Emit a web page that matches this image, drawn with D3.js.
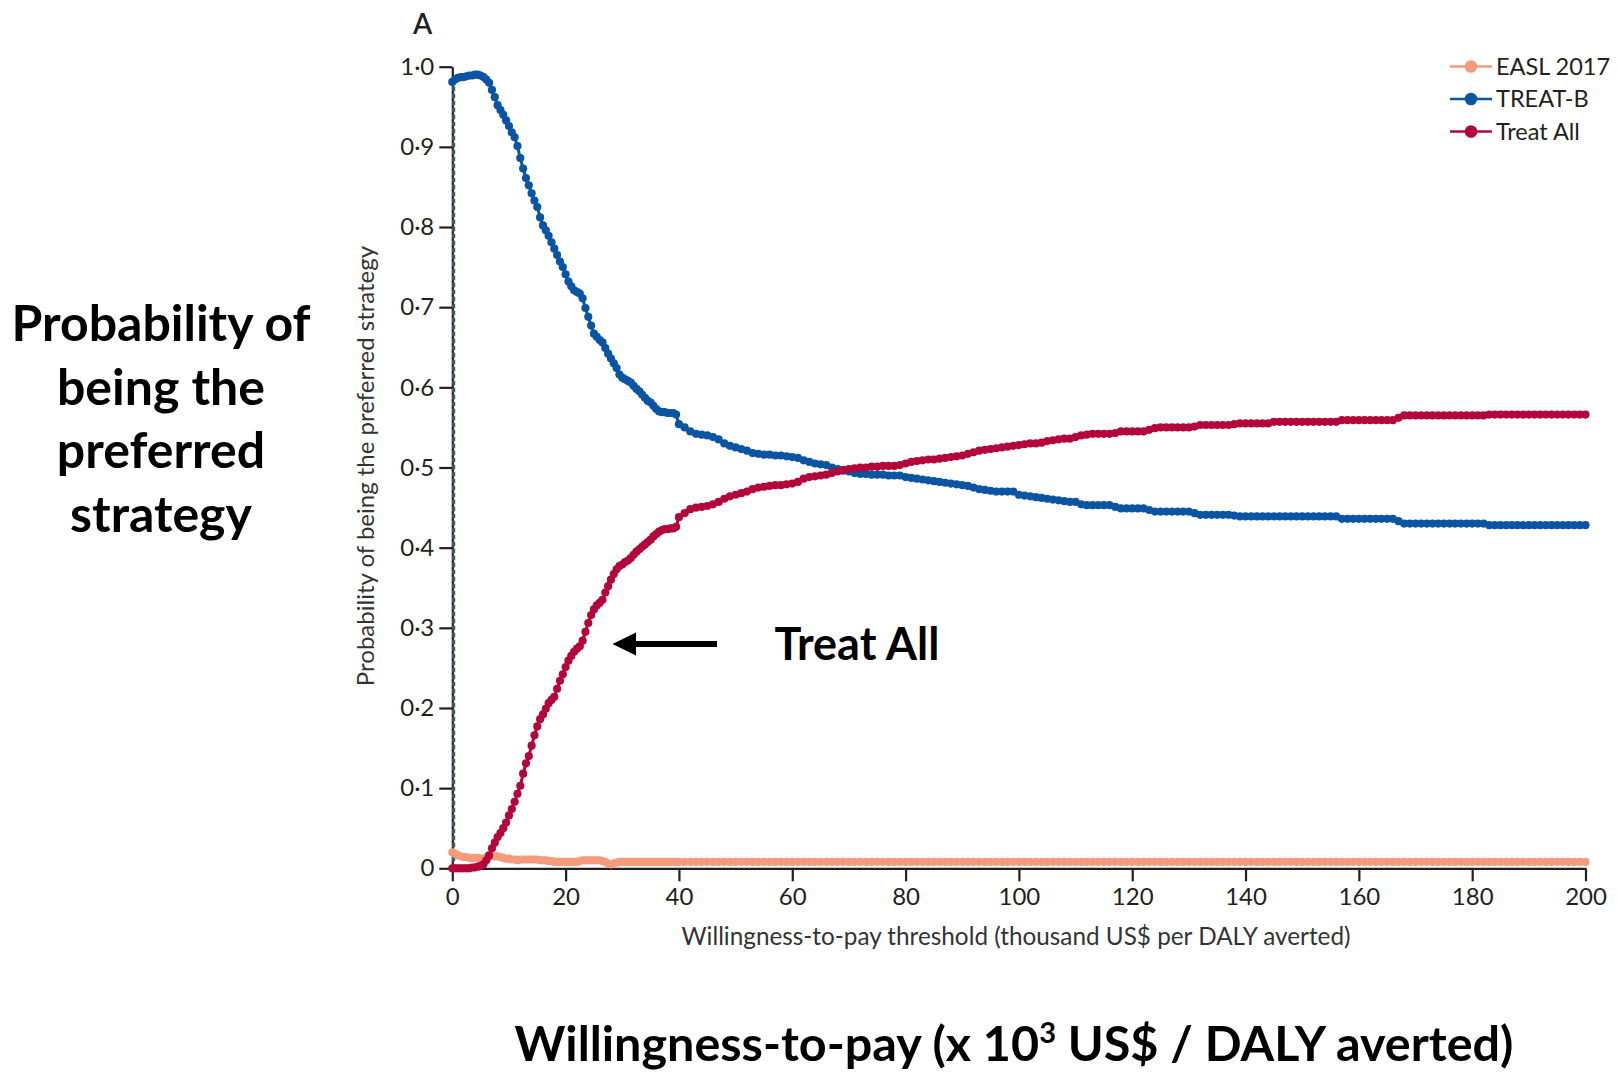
<!DOCTYPE html>
<html>
<head>
<meta charset="utf-8">
<script src="https://cdn.jsdelivr.net/npm/d3@7"></script>
<style>
  html, body { margin: 0; padding: 0; background: #fff; }
  svg { display: block; }
</style>
</head>
<body>
<script>
// Willingness-to-pay thresholds (thousand US$ per DALY averted):
// every 0.5 up to 40, then every 1 up to 200
const thresholds = d3.range(0, 40, 0.5).concat(d3.range(40, 201, 1));

const seriesNames = ["EASL 2017", "TREAT-B", "Treat All"];
const seriesColors = ["#f59b7c", "#0a55a3", "#b3063a"];

const xTicks = [0, 20, 40, 60, 80, 100, 120, 140, 160, 180, 200];
const yTicks = [0, 0.1, 0.2, 0.3, 0.4, 0.5, 0.6, 0.7, 0.8, 0.9, 1.0];
const yTickLabels = ["0", "0·1", "0·2", "0·3", "0·4", "0·5", "0·6", "0·7", "0·8", "0·9", "1·0"];

// Probability of being the preferred strategy
const easl = [
  // 0 – 39.5 (step 0.5)
  0.020,0.018,0.016,0.015,0.014,0.014,0.013,0.013,0.013,0.013,
  0.012,0.012,0.013,0.014,0.015,0.015,0.015,0.014,0.013,0.012,
  0.012,0.011,0.011,0.010,0.011,0.011,0.011,0.011,0.011,0.011,
  0.011,0.010,0.010,0.010,0.009,0.009,0.008,0.008,0.008,0.008,
  0.008,0.008,0.008,0.008,0.008,0.009,0.010,0.010,0.010,0.010,
  0.010,0.010,0.010,0.009,0.008,0.006,0.005,0.006,0.007,0.008,
  0.008,0.008,0.008,0.008,0.008,0.008,0.008,0.008,0.008,0.008,
  0.008,0.008,0.008,0.008,0.008,0.008,0.008,0.008,0.008,0.008,
  // 40 – 200 (step 1)
  0.008,
  0.008,0.008,0.008,0.008,0.008,0.008,0.008,0.008,0.008,0.008,
  0.008,0.008,0.008,0.008,0.008,0.008,0.008,0.008,0.008,0.008,
  0.008,0.008,0.008,0.008,0.008,0.008,0.008,0.008,0.008,0.008,
  0.008,0.008,0.008,0.008,0.008,0.008,0.008,0.008,0.008,0.008,
  0.008,0.008,0.008,0.008,0.008,0.008,0.008,0.008,0.008,0.008,
  0.008,0.008,0.008,0.008,0.008,0.008,0.008,0.008,0.008,0.008,
  0.008,0.008,0.008,0.008,0.008,0.008,0.008,0.008,0.008,0.008,
  0.008,0.008,0.008,0.008,0.008,0.008,0.008,0.008,0.008,0.008,
  0.008,0.008,0.008,0.008,0.008,0.008,0.008,0.008,0.008,0.008,
  0.008,0.008,0.008,0.008,0.008,0.008,0.008,0.008,0.008,0.008,
  0.008,0.008,0.008,0.008,0.008,0.008,0.008,0.008,0.008,0.008,
  0.008,0.008,0.008,0.008,0.008,0.008,0.008,0.008,0.008,0.008,
  0.008,0.008,0.008,0.008,0.008,0.008,0.008,0.008,0.008,0.008,
  0.008,0.008,0.008,0.008,0.008,0.008,0.008,0.008,0.008,0.008,
  0.008,0.008,0.008,0.008,0.008,0.008,0.008,0.008,0.008,0.008,
  0.008,0.008,0.008,0.008,0.008,0.008,0.008,0.008,0.008,0.008
];

const treatB = [
  // 0 – 39.5 (step 0.5)
  0.981,0.984,0.986,0.987,0.987,0.988,0.989,0.989,0.990,0.990,
  0.989,0.987,0.984,0.980,0.971,0.962,0.952,0.946,0.940,0.933,
  0.926,0.918,0.912,0.901,0.886,0.873,0.861,0.852,0.842,0.833,
  0.825,0.812,0.802,0.796,0.789,0.781,0.773,0.765,0.757,0.750,
  0.741,0.732,0.726,0.721,0.719,0.717,0.711,0.699,0.688,0.677,
  0.667,0.663,0.659,0.656,0.649,0.642,0.636,0.630,0.624,0.616,
  0.612,0.610,0.608,0.606,0.602,0.598,0.595,0.591,0.587,0.583,
  0.581,0.577,0.573,0.570,0.569,0.569,0.568,0.568,0.568,0.566,
  // 40 – 200 (step 1)
  0.554,
  0.550,0.545,0.542,0.541,0.540,0.538,0.535,0.530,0.527,0.525,
  0.523,0.521,0.518,0.517,0.516,0.516,0.515,0.515,0.514,0.513,
  0.512,0.509,0.507,0.505,0.504,0.503,0.500,0.498,0.496,0.495,
  0.493,0.492,0.492,0.491,0.491,0.491,0.490,0.490,0.490,0.488,
  0.487,0.486,0.485,0.484,0.483,0.482,0.481,0.480,0.479,0.478,
  0.477,0.475,0.473,0.472,0.471,0.470,0.470,0.470,0.470,0.466,
  0.465,0.464,0.463,0.462,0.461,0.460,0.459,0.458,0.457,0.457,
  0.454,0.453,0.453,0.453,0.453,0.453,0.451,0.449,0.449,0.449,
  0.449,0.449,0.447,0.445,0.445,0.445,0.445,0.445,0.445,0.445,
  0.443,0.441,0.441,0.441,0.441,0.441,0.441,0.440,0.439,0.439,
  0.439,0.439,0.439,0.439,0.439,0.439,0.439,0.439,0.439,0.439,
  0.439,0.439,0.439,0.439,0.439,0.439,0.436,0.436,0.436,0.436,
  0.436,0.436,0.436,0.436,0.436,0.436,0.433,0.430,0.430,0.430,
  0.430,0.430,0.430,0.430,0.430,0.430,0.430,0.430,0.430,0.430,
  0.430,0.430,0.428,0.428,0.428,0.428,0.428,0.428,0.428,0.428,
  0.428,0.428,0.428,0.428,0.428,0.428,0.428,0.428,0.428,0.428
];

const treatAll = [
  // 0 – 39.5 (step 0.5)
  0.000,0.000,0.000,0.000,0.000,0.000,0.000,0.001,0.001,0.002,
  0.003,0.005,0.010,0.016,0.025,0.032,0.039,0.044,0.050,0.057,
  0.066,0.074,0.083,0.093,0.103,0.118,0.131,0.140,0.153,0.166,
  0.177,0.186,0.192,0.199,0.206,0.210,0.214,0.224,0.234,0.242,
  0.251,0.259,0.265,0.270,0.274,0.277,0.284,0.295,0.306,0.316,
  0.323,0.328,0.331,0.335,0.344,0.352,0.360,0.367,0.373,0.377,
  0.379,0.382,0.384,0.387,0.391,0.395,0.398,0.401,0.404,0.407,
  0.410,0.414,0.417,0.420,0.422,0.423,0.423,0.424,0.424,0.426,
  // 40 – 200 (step 1)
  0.438,
  0.443,0.448,0.450,0.451,0.452,0.454,0.457,0.461,0.464,0.466,
  0.468,0.470,0.473,0.475,0.476,0.477,0.478,0.478,0.479,0.480,
  0.482,0.486,0.488,0.489,0.490,0.491,0.493,0.495,0.497,0.498,
  0.499,0.500,0.500,0.501,0.501,0.502,0.502,0.502,0.503,0.505,
  0.507,0.508,0.509,0.510,0.510,0.511,0.512,0.513,0.514,0.515,
  0.517,0.519,0.521,0.522,0.523,0.524,0.525,0.526,0.527,0.528,
  0.529,0.530,0.530,0.531,0.533,0.534,0.535,0.536,0.536,0.538,
  0.540,0.541,0.542,0.542,0.542,0.542,0.543,0.545,0.545,0.545,
  0.545,0.545,0.547,0.549,0.550,0.550,0.550,0.550,0.550,0.550,
  0.551,0.553,0.553,0.553,0.553,0.553,0.553,0.554,0.555,0.555,
  0.555,0.555,0.555,0.555,0.557,0.557,0.557,0.557,0.557,0.557,
  0.557,0.557,0.557,0.557,0.557,0.557,0.559,0.559,0.559,0.559,
  0.559,0.559,0.559,0.559,0.559,0.559,0.562,0.565,0.565,0.565,
  0.565,0.565,0.565,0.565,0.565,0.565,0.565,0.565,0.565,0.565,
  0.565,0.565,0.566,0.566,0.566,0.566,0.566,0.566,0.566,0.566,
  0.566,0.566,0.566,0.566,0.566,0.566,0.566,0.566,0.566,0.566
];

const seriesValues = [easl, treatB, treatAll];

const W = 1617, H = 1074;
const ink = "#231f20";
const chartFont = "Lato, 'Open Sans', sans-serif";

const svg = d3.select("body").append("svg")
  .attr("width", W).attr("height", H)
  .attr("viewBox", `0 0 ${W} ${H}`);

const x = d3.scaleLinear().domain([0, 200]).range([452.3, 1585.5]);
const y = d3.scaleLinear().domain([0, 1]).range([868.3, 66.7]);

// Axes
const yAxis = d3.axisLeft(y)
  .tickValues(yTicks)
  .tickFormat((d, i) => yTickLabels[i])
  .tickSize(13).tickSizeOuter(0).tickPadding(5);

const xAxis = d3.axisBottom(x)
  .tickValues(xTicks)
  .tickFormat(d3.format("d"))
  .tickSize(13).tickSizeOuter(0).tickPadding(7);

function styleAxis(g) {
  g.selectAll("path.domain").attr("stroke", ink).attr("stroke-width", 2.2);
  g.selectAll(".tick line").attr("stroke", ink).attr("stroke-width", 2.2);
  g.selectAll(".tick text")
    .attr("fill", ink)
    .style("font-family", chartFont)
    .style("font-size", "24px");
}

svg.append("g").attr("transform", `translate(0,${y(0)})`).call(xAxis).call(styleAxis);
svg.append("g").attr("transform", `translate(${x(0)},0)`).call(yAxis).call(styleAxis);

// Dashed reference line at zero willingness to pay
svg.append("line")
  .attr("x1", x(0) + 1.3).attr("x2", x(0) + 1.3)
  .attr("y1", y(0)).attr("y2", y(treatB[0]))
  .attr("stroke", "#3d5866").attr("stroke-width", 3.2)
  .attr("stroke-dasharray", "4.5 2.5");

// Series: connecting line plus a dot at every threshold
const line = d3.line().x(d => x(d[0])).y(d => y(d[1]));

seriesValues.forEach((vals, s) => {
  const pts = thresholds.map((t, i) => [t, vals[i]]);
  const g = svg.append("g").attr("class", "series");
  g.append("path")
    .attr("d", line(pts))
    .attr("fill", "none")
    .attr("stroke", seriesColors[s])
    .attr("stroke-width", 3);
  g.selectAll("circle").data(pts).join("circle")
    .attr("cx", d => x(d[0]))
    .attr("cy", d => y(d[1]))
    .attr("r", 4.1)
    .attr("fill", seriesColors[s]);
});

// Legend
const legend = svg.append("g").attr("transform", "translate(1450,66.5)");
seriesNames.forEach((name, i) => {
  const row = legend.append("g").attr("transform", `translate(0,${i * 32.5})`);
  row.append("line").attr("x1", 0).attr("x2", 42).attr("y1", 0).attr("y2", 0)
    .attr("stroke", seriesColors[i]).attr("stroke-width", 2.6);
  row.append("circle").attr("cx", 21).attr("cy", 0).attr("r", 6.3)
    .attr("fill", seriesColors[i]);
  row.append("text").attr("x", 46).attr("y", 0).attr("dy", "0.35em")
    .attr("fill", ink)
    .style("font-family", chartFont).style("font-size", "23.5px")
    .text(name);
});

// Panel letter
svg.append("text").attr("x", 422.5).attr("y", 34)
  .attr("text-anchor", "middle").attr("fill", ink)
  .style("font-family", chartFont).style("font-size", "28px").style("font-weight", 600)
  .text("A");

// Axis titles
svg.append("text")
  .attr("transform", `translate(${366},${466}) rotate(-90)`)
  .attr("text-anchor", "middle").attr("dy", "0.35em")
  .attr("fill", "#333")
  .style("font-family", chartFont).style("font-size", "24px")
  .text("Probability of being the preferred strategy");

svg.append("text")
  .attr("x", 1016).attr("y", 936).attr("dy", "0.35em")
  .attr("text-anchor", "middle").attr("fill", "#333")
  .style("font-family", chartFont).style("font-size", "24.3px")
  .text("Willingness-to-pay threshold (thousand US$ per DALY averted)");

// Large annotations
const bold = "Lato, 'Open Sans', sans-serif";
const leftLines = ["Probability of", "being the", "preferred", "strategy"];
svg.append("g").selectAll("text").data(leftLines).join("text")
  .attr("x", 161).attr("y", (d, i) => 341 + i * 63.5)
  .attr("text-anchor", "middle").attr("fill", "#000")
  .style("font-family", bold).style("font-size", "50px").style("font-weight", 700)
  .text(d => d);

svg.append("text")
  .attr("x", 774.5).attr("y", 660)
  .attr("fill", "#000")
  .style("font-family", bold).style("font-size", "45px").style("font-weight", 700)
  .text("Treat All");

// Arrow pointing at the Treat All curve
svg.append("line")
  .attr("x1", 717).attr("x2", 630).attr("y1", 644).attr("y2", 644)
  .attr("stroke", "#000").attr("stroke-width", 6);
svg.append("path")
  .attr("d", "M612.5,644 L636,632.5 L636,655.5 Z")
  .attr("fill", "#000");

const bottom = svg.append("text")
  .attr("x", 1014).attr("y", 1061)
  .attr("text-anchor", "middle").attr("fill", "#000")
  .style("font-family", bold).style("font-size", "48.5px").style("font-weight", 700);
bottom.append("tspan").text("Willingness-to-pay (x 10");
bottom.append("tspan").attr("dy", -18).style("font-size", "29px").text("3");
bottom.append("tspan").attr("dy", 18).text(" US$ / DALY averted)");
</script>
</body>
</html>
